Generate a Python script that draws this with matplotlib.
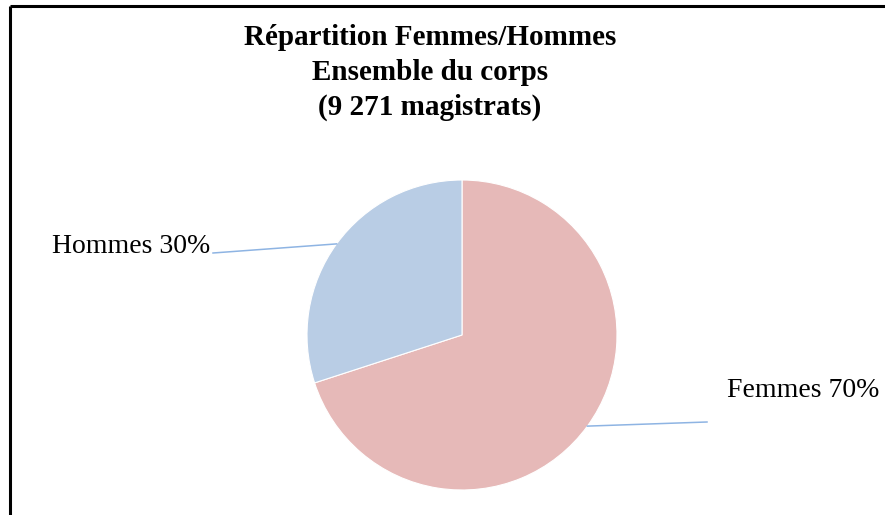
import numpy as np
import matplotlib
matplotlib.use("Agg")
import matplotlib.pyplot as plt

# data
labels = ["Femmes", "Hommes"]
shares = [70, 30]
colors = ["#E6B9B8", "#B9CDE5"]
title_lines = ["Répartition Femmes/Hommes", "Ensemble du corps", "(9 271 magistrats)"]

W, H = 885, 515
fig = plt.figure(figsize=(W / 100, H / 100), dpi=100)
ax = fig.add_axes([0, 0, 1, 1])

center = (462, H - 335)
radius = 155
wedges, _ = ax.pie(shares, colors=colors, startangle=90, counterclock=False,
                   center=center, radius=radius, frame=True,
                   wedgeprops=dict(edgecolor="white", linewidth=0.8))
ax.set_xlim(0, W)
ax.set_ylim(0, H)
ax.set_aspect("equal")
ax.axis("off")

# outer frame (top and left edges only visible in the reference)
ax.plot([10, W], [H - 6, H - 6], color="black", lw=2.2, solid_capstyle="butt")
ax.plot([10, 10], [0, H - 6], color="black", lw=2.2, solid_capstyle="butt")

# title
for i, line in enumerate(title_lines):
    ax.text(430, H - 45 - 35 * i, line, ha="center", va="baseline",
            fontsize=21, fontweight="bold", family="Liberation Serif")

# labels with leader lines
label_pos = {"Femmes": (707, H - 422, 727, H - 397, "left"),
             "Hommes": (213, H - 253, 210, H - 253, "right")}
for w, lab, val in zip(wedges, labels, shares):
    ang = np.deg2rad((w.theta1 + w.theta2) / 2)
    px = center[0] + radius * np.cos(ang)
    py = center[1] + radius * np.sin(ang)
    lx, ly, tx, ty, ha = label_pos[lab]
    ax.plot([px, lx], [py, ly], color="#8EB4E3", lw=1.1)
    ax.text(tx, ty, f"{lab} {val}%", ha=ha, va="baseline",
            fontsize=20, family="Liberation Serif")

fig.savefig("out.png", dpi=100)
